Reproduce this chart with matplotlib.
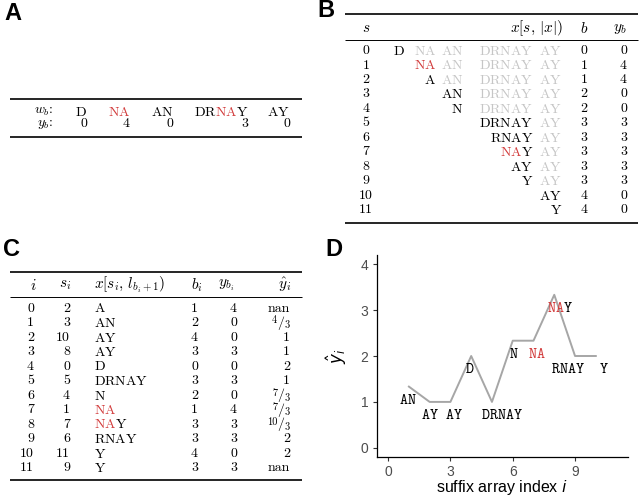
import numpy as np
import matplotlib
matplotlib.use('Agg')
import matplotlib.pyplot as plt
import matplotlib.transforms as mtransforms

plt.rcParams['mathtext.fontset'] = 'cm'
plt.rcParams['axes.unicode_minus'] = False

RED = '#d23c3c'
GRAY = '#c6c6c6'
PAT = 'NA'

# --- data ---
words = ['D', 'NA', 'AN', 'DRNAY', 'AY']
word_y = [0, 4, 0, 3, 0]

# suffix array rows (panel C)
suf_s = [2, 3, 10, 8, 0, 5, 4, 1, 7, 6, 11, 9]
suf_text = ['A', 'AN', 'AY', 'AY', 'D', 'DRNAY', 'N', 'NA', 'NAY', 'RNAY', 'Y', 'Y']
suf_b = [1, 2, 4, 3, 0, 3, 2, 1, 3, 3, 4, 3]
suf_yb = [4, 0, 0, 3, 0, 3, 0, 4, 3, 3, 0, 3]
yhat_num = [np.nan, 4, 1, 1, 2, 1, 7, 7, 10, 2, 2, np.nan]
yhat_den = [1, 3, 1, 1, 1, 1, 3, 3, 3, 1, 1, 1]

# label nudges for panel D (x offset, y offset)
label_dx = [0, -0.04, 0.0, 0.16, -0.07, 0.47, 0.04, 0.15, 0.25, -0.35, 0.37, 0]
label_dy = -0.27

yhat = np.array(yhat_num) / np.array(yhat_den)

fig = plt.figure(figsize=(6.43, 5.01), dpi=100)
bg = fig.add_axes([0, 0, 1, 1])
bg.set_xlim(0, 643)
bg.set_ylim(501, 0)
bg.axis('off')
R = fig.canvas.get_renderer()

TXT = dict(family='cmr10', fontsize=10)
HDR = dict(family='cmr10', fontsize=11)


def split_parts(word, anywhere):
    if not anywhere:
        if word.startswith(PAT):
            return [(PAT, RED), (word[len(PAT):], 'black')]
        return [(word, 'black')]
    parts = []
    rest = word
    while PAT in rest:
        k = rest.index(PAT)
        parts.append((rest[:k], 'black'))
        parts.append((PAT, RED))
        rest = rest[k + len(PAT):]
    parts.append((rest, 'black'))
    return parts


def width_of(ax, s, **kw):
    t = ax.text(0, 0, s, **kw)
    w = t.get_window_extent(R).width
    t.remove()
    return w


def seg_text(ax, x, y, parts, ha, style='mathrm', fontsize=10):
    # coloured pieces laid out with mathtext so advances add up exactly
    parts = [(s, c) for s, c in parts if s]
    kw = dict(fontsize=fontsize)
    wrap = lambda s: r'$\%s{%s}$' % (style, s)
    total = width_of(ax, wrap(''.join(p[0] for p in parts)), **kw)
    base = {'left': 0, 'center': -total / 2, 'right': -total}[ha]
    prefix = ''
    for s, c in parts:
        prefix += s
        off = base + width_of(ax, wrap(prefix), **kw) - width_of(ax, wrap(s), **kw)
        tr = mtransforms.offset_copy(ax.transData, fig=fig, x=off, units='dots')
        ax.text(x, y, wrap(s), color=c, ha='left', va='center', transform=tr, **kw)


def nicefrac(ax, x, y, num, den):
    tr_d = mtransforms.offset_copy(ax.transData, fig=fig, y=-2.5, units='dots')
    ax.text(x, y, str(den), ha='right', va='center', family='cmr10', fontsize=7.5, transform=tr_d)
    wd = width_of(ax, str(den), family='cmr10', fontsize=7.5)
    tr_s = mtransforms.offset_copy(ax.transData, fig=fig, x=-wd - 0.3, units='dots')
    ax.text(x, y, '/', ha='right', va='center', family='cmr10', fontsize=10, transform=tr_s)
    ws = width_of(ax, '/', family='cmr10', fontsize=10)
    tr_n = mtransforms.offset_copy(ax.transData, fig=fig, x=-wd - ws - 0.3, y=2.5, units='dots')
    ax.text(x, y, str(num), ha='right', va='center', family='cmr10', fontsize=7.5, transform=tr_n)


def rule(y, x0, x1, lw):
    bg.hlines(y, x0, x1, color='black', lw=lw)


# --- panel labels ---
for lab, (px, py) in zip('ABCD', [(13, 13), (326, 10), (11, 250), (334, 250)]):
    bg.text(px, py, lab, family='Liberation Sans', fontweight='bold', fontsize=17,
            ha='center', va='center')

# --- panel A ---
rule(99, 10, 302, 1.2)
rule(137, 10, 302, 1.2)
bg.text(54, 111.5, '$w_b$:', ha='right', va='center', **TXT)
bg.text(54, 124, '$y_b$:', ha='right', va='center', **TXT)
a_right = [87, 130, 173, 248, 290]
for w, yb, xr in zip(words, word_y, a_right):
    seg_text(bg, xr, 111.5, split_parts(w, True), 'right')
    bg.text(xr, 124, str(yb), ha='right', va='center', **TXT)

# --- panel B ---
b_right = [405, 436, 463, 533, 562]
full = ''.join(words)
rule(14, 345, 638, 1.2)
rule(39.5, 345, 638, 0.7)
bg.text(366, 28.5, '$s$', ha='center', va='center', **HDR)
bg.text(563, 28.5, r'$x[s,\,|x|)$', ha='right', va='center', **HDR)
bg.text(584, 28.5, '$b$', ha='center', va='center', **HDR)
bg.text(620, 28.5, '$y_b$', ha='center', va='center', **HDR)
starts = np.cumsum([0] + [len(w) for w in words])
for s in range(len(full)):
    y = 51 + 14.45 * s
    wi = int(np.searchsorted(starts, s, side='right') - 1)
    bg.text(366, y, str(s), ha='center', va='center', **TXT)
    seg_text(bg, b_right[wi], y, split_parts(words[wi][s - starts[wi]:], False), 'right')
    for wj in range(wi + 1, len(words)):
        seg_text(bg, b_right[wj], y, [(words[wj], GRAY)], 'right')
    bg.text(584, y, str(wi), ha='center', va='center', **TXT)
    bg.text(627, y, str(word_y[wi]), ha='right', va='center', **TXT)
rule(223, 345, 638, 1.2)

# --- panel C ---
rule(272, 10, 302, 1.2)
rule(297, 10, 302, 0.7)
hy = 285
bg.text(33, hy, '$i$', ha='center', va='center', **HDR)
bg.text(65, hy, '$s_i$', ha='center', va='center', **HDR)
bg.text(94, hy, r'$x[s_i,\,l_{b_i+1})$', ha='left', va='center', **HDR)
bg.text(197, hy, '$b_i$', ha='center', va='center', **HDR)
bg.text(226, hy, '$y_{b_i}$', ha='center', va='center', **HDR)
bg.text(291, hy, r'$\hat{y}_i$', ha='right', va='center', **HDR)
for i in range(len(suf_s)):
    y = 308.5 + 14.5 * i
    bg.text(34, y, str(i), ha='right', va='center', **TXT)
    bg.text(70, y, str(suf_s[i]), ha='right', va='center', **TXT)
    seg_text(bg, 94, y, split_parts(suf_text[i], False), 'left')
    bg.text(198, y, str(suf_b[i]), ha='right', va='center', **TXT)
    bg.text(237, y, str(suf_yb[i]), ha='right', va='center', **TXT)
    if np.isnan(yhat_num[i]):
        bg.text(290, y, 'nan', ha='right', va='center', **TXT)
    elif yhat_den[i] == 1:
        bg.text(290, y, str(int(yhat_num[i])), ha='right', va='center', **TXT)
    else:
        nicefrac(bg, 290, y, int(yhat_num[i]), yhat_den[i])
rule(480, 10, 302, 1.2)

# --- panel D ---
ax = fig.add_axes([376.7 / 643, 44 / 501, (628 - 376.7) / 643, (457 - 255) / 501])
idx = np.arange(len(yhat))
ax.plot(idx, yhat, color='#a6a6a6', lw=1.4)
ax.set_xlim(-0.55, 11.55)
ax.set_ylim(-0.2, 4.2)
for i in idx:
    if np.isnan(yhat[i]):
        continue
    seg_text(ax, i + label_dx[i], yhat[i] + label_dy, split_parts(suf_text[i], False), 'center',
             style='mathtt', fontsize=11)
ax.set_xticks([0, 3, 6, 9])
ax.set_yticks([0, 1, 2, 3, 4])
for sp in ['top', 'right']:
    ax.spines[sp].set_visible(False)
for sp in ['left', 'bottom']:
    ax.spines[sp].set_linewidth(0.9)
ax.tick_params(length=3, width=0.8, color='#333333', labelcolor='#4d4d4d', labelsize=10, pad=3)
for t in ax.get_xticklabels() + ax.get_yticklabels():
    t.set_family('Liberation Sans')
ax.set_xlabel('suffix array index $i$', family='Liberation Sans', fontsize=11.5,
              math_fontfamily='dejavusans', labelpad=-1)
ax.set_ylabel(r'$\hat{y}_i$', fontsize=12, math_fontfamily='dejavusans', labelpad=8)
ax.patch.set_alpha(0)

fig.savefig('out.png', dpi=100)
